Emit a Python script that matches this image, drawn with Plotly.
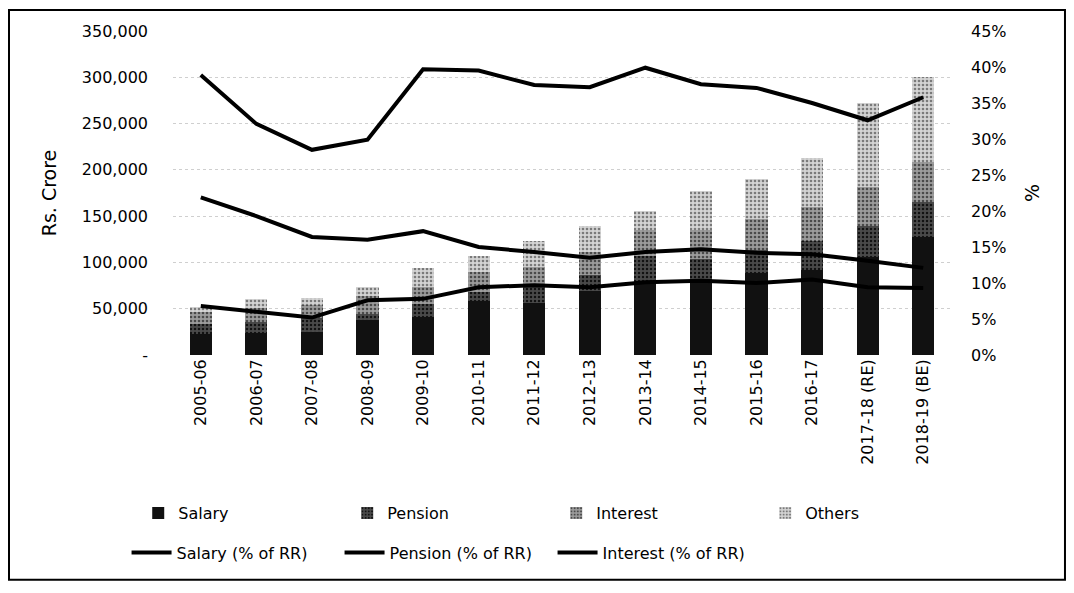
import plotly.graph_objects as go

# Categories
years = ['2005-06', '2006-07', '2007-08', '2008-09', '2009-10', '2010-11', '2011-12',
         '2012-13', '2013-14', '2014-15', '2015-16', '2016-17', '2017-18 (RE)', '2018-19 (BE)']

# Expenditure, Rs. Crore (stacked bars)
salary = [23000, 24000, 24500, 38000, 41500, 58000, 56000, 69500, 79500, 82000, 89000, 91500, 106000, 128000]
pension = [10000, 12000, 16000, 6000, 14000, 10000, 17500, 16500, 27000, 21500, 24000, 31500, 33500, 37000]
interest = [13000, 14500, 14000, 20000, 18000, 22000, 21500, 25500, 28500, 32000, 34000, 36500, 42500, 43000]
others = [5500, 10500, 7500, 10000, 20000, 17000, 28500, 27500, 20500, 41500, 43000, 53500, 90500, 92000]

# Share of revenue receipts, %
salary_pct = [38.9, 32.1, 28.5, 29.9, 39.7, 39.5, 37.5, 37.2, 39.9, 37.6, 37.1, 35.0, 32.6, 35.8]
pension_pct = [6.8, 6.0, 5.2, 7.6, 7.8, 9.4, 9.7, 9.4, 10.1, 10.3, 10.0, 10.5, 9.4, 9.3]
interest_pct = [21.9, 19.3, 16.4, 16.0, 17.2, 15.0, 14.3, 13.5, 14.3, 14.7, 14.2, 14.0, 13.1, 12.1]

# Axis ticks
left_ticks = [0, 50000, 100000, 150000, 200000, 250000, 300000, 350000]
left_labels = ['-', '50,000', '100,000', '150,000', '200,000', '250,000', '300,000', '350,000']

FONT = 'DejaVu Sans'

fig = go.Figure()

bar_styles = [
    ('Salary', salary, '#111111', None),
    ('Pension', pension, '#3c3c3c', dict(shape='.', fgcolor='#111111', bgcolor='#4a4a4a', size=4, solidity=0.3)),
    ('Interest', interest, '#8e8e8e', dict(shape='.', fgcolor='#4a4a4a', bgcolor='#9c9c9c', size=4, solidity=0.35)),
    ('Others', others, '#c4c4c4', dict(shape='.', fgcolor='#7a7a7a', bgcolor='#d4d4d4', size=4, solidity=0.35)),
]
for name, vals, col, pat in bar_styles:
    marker = dict(color=col, line=dict(width=0))
    if pat:
        marker['pattern'] = dict(fillmode='replace', **pat)
    fig.add_trace(go.Bar(x=years, y=vals, name=name, marker=marker, legend='legend'))

for name, vals in [('Salary (% of RR)', salary_pct),
                   ('Pension (% of RR)', pension_pct),
                   ('Interest (% of RR)', interest_pct)]:
    fig.add_trace(go.Scatter(x=years, y=vals, name=name, mode='lines', yaxis='y2',
                             line=dict(color='#000000', width=4), legend='legend2'))

# page body adds an 8px margin, so margins are trimmed by 8px
fig.update_layout(
    width=1066, height=585,
    barmode='stack', bargap=0.6,
    paper_bgcolor='white', plot_bgcolor='white',
    font=dict(family=FONT, size=16, color='#000000'),
    margin=dict(l=165, r=123, t=23, b=238),
    xaxis=dict(type='category', tickangle=-90, showline=False, ticks='', showgrid=False),
    yaxis=dict(range=[0, 350000], tickvals=left_ticks, ticktext=left_labels,
               showgrid=True, gridcolor='#cfcfcf', griddash='dot', gridwidth=1,
               zeroline=False, showline=False, ticks='', ticklabelstandoff=24,
               title=dict(text='Rs. Crore', standoff=20)),
    yaxis2=dict(range=[0, 45], dtick=5, ticksuffix='%', overlaying='y', side='right',
                showgrid=False, zeroline=False, showline=False, ticks='',
                ticklabelstandoff=19, title=dict(text='%', standoff=20)),
    legend=dict(orientation='h', x=-0.0447, xanchor='left', y=-0.488, yanchor='middle',
                entrywidth=164, font=dict(size=16), traceorder='normal'),
    legend2=dict(orientation='h', x=-0.0597, xanchor='left', y=-0.61, yanchor='middle',
                 entrywidth=158, font=dict(size=16), itemwidth=40),
    shapes=[dict(type='rect', xref='paper', yref='paper', x0=-0.2108, x1=1.1465,
                 y0=-0.694, y1=1.0648, line=dict(color='#000000', width=2))],
)

fig.write_html('out.html')
